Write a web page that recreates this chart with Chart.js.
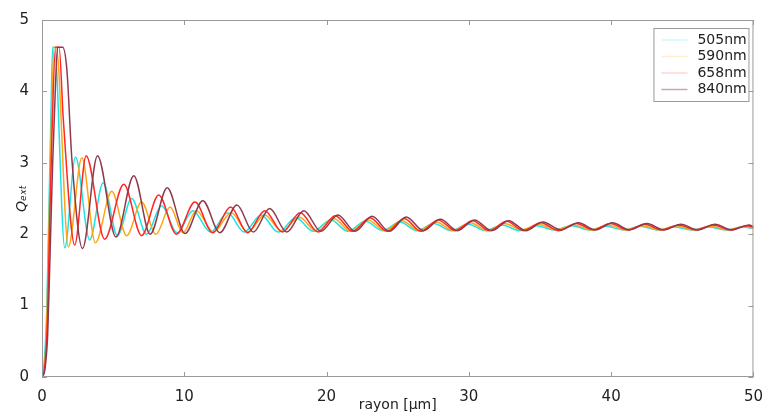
<!DOCTYPE html>
<html>
<head>
<meta charset="utf-8">
<script src="https://cdn.jsdelivr.net/npm/chart.js@4.4.0/dist/chart.umd.min.js"></script>
<style>
  html, body { margin: 0; padding: 0; background: #fff; }
  #wrap { width: 766px; height: 414px; }
</style>
</head>
<body>
<div id="wrap"><canvas id="qext-chart" width="766" height="414"></canvas></div>
<script>
// values (peaks / troughs of each curve)
const labels = ['505nm', '590nm', '658nm', '840nm'];
const colors = ['#1ee3e3', '#ffa514', '#ff2626', '#8e3a4c'];

const r505 = [0, 0.15, 0.33, 0.45, 0.62, 0.75, 0.88, 1.6, 2.35, 3.35, 4.3, 5.3, 6.3, 7.35, 8.4, 9.5, 10.6, 11.85, 13.05, 14.2, 15.4, 16.6, 17.85, 19.05, 20.3, 21.5, 22.72, 23.95, 25.15, 26.35, 27.55, 28.75, 29.95, 31.15, 32.35, 33.55, 34.75, 36.0, 37.25, 38.45, 39.65, 40.85, 42.05, 43.25, 44.45, 45.65, 46.85, 48.05, 49.25, 50];
const q505 = [0, 0.2, 0.9, 2.0, 3.6, 4.62, 4.62, 1.81, 3.08, 1.92, 2.72, 1.98, 2.5, 2.0, 2.4, 2.02, 2.33, 2.03, 2.3, 2.03, 2.27, 2.03, 2.23, 2.04, 2.2, 2.04, 2.18, 2.05, 2.17, 2.05, 2.15, 2.05, 2.14, 2.05, 2.13, 2.05, 2.12, 2.06, 2.12, 2.06, 2.11, 2.06, 2.11, 2.06, 2.1, 2.06, 2.1, 2.06, 2.1, 2.08];

const r590 = [0, 0.2, 0.35, 0.48, 0.65, 0.85, 1.0, 1.85, 2.8, 3.75, 4.9, 5.95, 7.0, 8.0, 9.0, 9.9, 10.85, 12.05, 13.3, 14.45, 15.65, 16.85, 18.05, 19.3, 20.5, 21.7, 22.9, 24.1, 25.3, 26.5, 27.7, 28.9, 30.1, 31.3, 32.5, 33.7, 34.9, 36.15, 37.4, 38.6, 39.8, 41.0, 42.2, 43.4, 44.6, 45.8, 47.0, 48.2, 49.4, 50];
const q590 = [0, 0.2, 0.9, 2.0, 3.5, 4.62, 4.62, 1.82, 3.07, 1.88, 2.6, 1.98, 2.45, 2.0, 2.38, 2.02, 2.33, 2.03, 2.3, 2.03, 2.27, 2.04, 2.24, 2.04, 2.22, 2.04, 2.2, 2.05, 2.19, 2.05, 2.17, 2.05, 2.16, 2.05, 2.15, 2.06, 2.14, 2.06, 2.13, 2.06, 2.13, 2.06, 2.12, 2.06, 2.12, 2.06, 2.11, 2.06, 2.11, 2.08];

const r658 = [0, 0.2, 0.4, 0.52, 0.7, 0.95, 1.2, 1.5, 2.3, 3.1, 4.4, 5.75, 7.0, 8.2, 9.45, 10.75, 12.0, 13.25, 14.45, 15.65, 16.9, 18.15, 19.4, 20.6, 21.85, 23.05, 24.25, 25.45, 26.65, 27.85, 29.05, 30.25, 31.45, 32.65, 33.85, 35.05, 36.3, 37.55, 38.75, 39.95, 41.15, 42.35, 43.55, 44.75, 45.95, 47.15, 48.35, 49.55, 50];
const q658 = [0, 0.15, 0.9, 2.0, 3.4, 4.62, 4.62, 3.6, 1.85, 3.1, 1.93, 2.7, 1.98, 2.55, 2.0, 2.45, 2.02, 2.38, 2.02, 2.33, 2.03, 2.3, 2.03, 2.26, 2.04, 2.23, 2.04, 2.22, 2.04, 2.2, 2.05, 2.19, 2.05, 2.18, 2.05, 2.16, 2.05, 2.15, 2.06, 2.15, 2.06, 2.14, 2.06, 2.13, 2.06, 2.13, 2.06, 2.12, 2.1];

const r840 = [0, 0.2, 0.4, 0.55, 0.75, 0.95, 1.1, 1.45, 1.75, 2.1, 2.85, 3.9, 5.2, 6.45, 7.6, 8.8, 10.05, 11.3, 12.5, 13.7, 14.85, 16.0, 17.2, 18.4, 19.6, 20.8, 22.0, 23.2, 24.4, 25.6, 26.8, 28.0, 29.2, 30.4, 31.6, 32.8, 34.0, 35.2, 36.45, 37.7, 38.9, 40.1, 41.3, 42.5, 43.7, 44.9, 46.1, 47.3, 48.5, 49.7, 50];
const q840 = [0, 0.1, 0.6, 1.6, 3.0, 4.1, 4.62, 4.62, 4.3, 3.05, 1.8, 3.1, 1.96, 2.82, 2.0, 2.65, 2.01, 2.47, 2.02, 2.41, 2.03, 2.36, 2.03, 2.33, 2.04, 2.27, 2.04, 2.25, 2.04, 2.24, 2.05, 2.21, 2.05, 2.2, 2.05, 2.19, 2.05, 2.17, 2.06, 2.16, 2.06, 2.16, 2.06, 2.15, 2.06, 2.14, 2.06, 2.14, 2.06, 2.13, 2.1];

const xTicks = [0, 10, 20, 30, 40, 50];
const yTicks = [0, 1, 2, 3, 4, 5];

const radii = [r505, r590, r658, r840];
const qext = [q505, q590, q658, q840];

Chart.defaults.font.family = "'DejaVu Sans', sans-serif";
Chart.defaults.color = '#222';

const frameColor = '#9a9a9a';

// box around the plot + small inward ticks on all four sides
const framePlugin = {
    id: 'frame',
    afterDraw(chart) {
        const {ctx, chartArea: a, scales} = chart;
        ctx.save();
        ctx.strokeStyle = frameColor;
        ctx.lineWidth = 1;
        ctx.strokeRect(a.left + 0.5, a.top + 0.5, a.right - a.left - 1, a.bottom - a.top - 1);
        ctx.beginPath();
        scales.x.ticks.forEach(t => {
            const px = Math.round(scales.x.getPixelForValue(t.value)) + 0.5;
            ctx.moveTo(px, a.bottom); ctx.lineTo(px, a.bottom - 5);
            ctx.moveTo(px, a.top); ctx.lineTo(px, a.top + 5);
        });
        scales.y.ticks.forEach(t => {
            const py = Math.round(scales.y.getPixelForValue(t.value)) + 0.5;
            ctx.moveTo(a.left, py); ctx.lineTo(a.left + 5, py);
            ctx.moveTo(a.right, py); ctx.lineTo(a.right - 5, py);
        });
        ctx.stroke();
        ctx.restore();
    }
};

// legend box drawn inside the plot, top right
const boxLegend = {
    id: 'boxLegend',
    afterDraw(chart) {
        const ctx = chart.ctx;
        const a = chart.chartArea;
        const x0 = a.right - 100, y0 = a.top + 8, w = 95, h = 73;
        ctx.save();
        ctx.fillStyle = '#fff';
        ctx.fillRect(x0, y0, w, h);
        ctx.strokeStyle = frameColor;
        ctx.lineWidth = 1;
        ctx.strokeRect(x0 + 0.5, y0 + 0.5, w, h);
        ctx.font = "14px 'DejaVu Sans'";
        ctx.textBaseline = 'middle';
        chart.data.datasets.forEach((ds, i) => {
            const y = y0 + 12 + i * 16.5;
            ctx.globalAlpha = i === 3 ? 0.45 : 0.2;
            ctx.strokeStyle = ds.borderColor;
            ctx.lineWidth = 1.5;
            ctx.beginPath();
            ctx.moveTo(x0 + 8, y); ctx.lineTo(x0 + 34, y);
            ctx.stroke();
            ctx.globalAlpha = 1;
            ctx.fillStyle = '#222';
            ctx.fillText(ds.label, x0 + 44, y);
        });
        ctx.restore();
    }
};

const qextChart = document.getElementById('qext-chart');

new Chart(qextChart, {
    type: 'line',
    data: {
        datasets: labels.map((lab, i) => ({
            label: lab,
            data: radii[i].map((r, k) => ({x: r, y: qext[i][k]})),
            borderColor: colors[i],
            borderWidth: 1.5,
            pointRadius: 0,
            cubicInterpolationMode: 'monotone',
            fill: false,
            order: 3 - i,
        }))
    },
    options: {
        responsive: false,
        animation: false,
        layout: { padding: { top: 20, right: 9, left: 0, bottom: 0 } },
        plugins: {
            legend: { display: false },
            tooltip: { enabled: false }
        },
        scales: {
            x: {
                type: 'linear',
                min: 0,
                max: 50,
                afterBuildTicks: s => { s.ticks = xTicks.map(v => ({value: v})); },
                afterFit: s => { s.height = 37; },
                grid: { display: false },
                border: { display: false },
                ticks: { font: { size: 15 }, padding: 3, maxRotation: 0 },
                title: {
                    display: true,
                    text: 'rayon [μm]',
                    font: { size: 14 },
                    padding: { top: 2, bottom: 0 }
                }
            },
            y: {
                min: 0,
                max: 5,
                afterBuildTicks: s => { s.ticks = yTicks.map(v => ({value: v})); },
                afterFit: s => { s.width = 42; },
                grid: { display: false },
                border: { display: false },
                ticks: { font: { size: 15 }, padding: 5 },
                title: {
                    display: true,
                    text: 'Qₑₓₜ',
                    font: { size: 14, style: 'italic' },
                    padding: { top: 14, bottom: 0 }
                }
            }
        }
    },
    plugins: [framePlugin, boxLegend]
});
</script>
</body>
</html>
